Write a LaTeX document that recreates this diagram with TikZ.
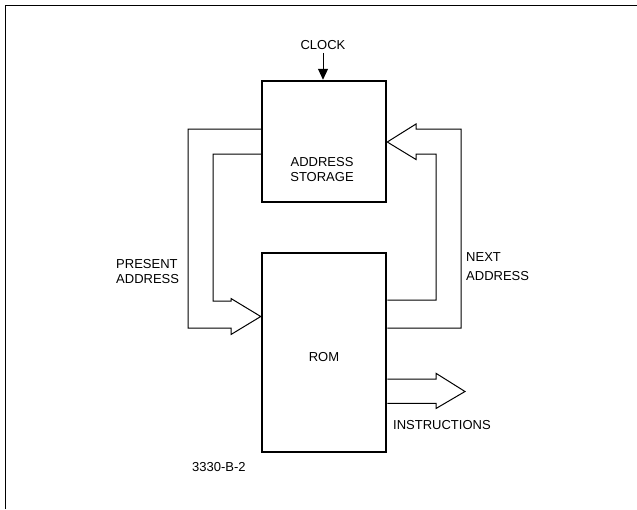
\documentclass[tikz,border=0pt]{standalone}
\usepackage{fontspec}
\setmainfont{Liberation Sans}
\usetikzlibrary{arrows.meta}
\tikzset{
  blk/.style={draw, line width=2.5pt, minimum width=124pt, inner sep=0pt},
  lbl/.style={inner sep=0pt, font=\fontsize{13}{15}\selectfont},
  bus/.style={draw, line width=1pt, line join=miter},
  framel/.style={line width=1.8pt},
}
\begin{document}
\begin{tikzpicture}[x=1pt,y=-1pt]
\useasboundingbox (0,0) rectangle (637,509);
\draw[framel] (5.5,509) -- (5.5,5.5) -- (637,5.5);

\node[blk, minimum height=121pt] (as) at (324,141.5) {};
\node[blk, minimum height=199pt] (rom) at (324,352.5) {};

\node[lbl, align=center] (ast) at (322,170) {ADDRESS\\STORAGE};
\node[lbl] (romt) at (324,356.7) {ROM};
\node[lbl] (clk) at (323,45) {CLOCK};
\node[lbl, align=left, anchor=west] (pa) at (116,271.5) {PRESENT\\ADDRESS};
\node[lbl, align=left, anchor=west] (na) at (466,266.5) {NEXT\\[3.5pt]ADDRESS};
\node[lbl, anchor=west] (ins) at (393,425) {INSTRUCTIONS};
\node[lbl, anchor=west] (fig) at (192,467) {3330-B-2};

% clock
\draw[line width=1pt, -{Triangle[length=11pt,width=10pt]}] (clk.south) ++(0,3) -- (clk |- as.north);

% present address bus
\draw[bus] (as.west |- 0,129) -- (188,129) -- (188,328) -- (231,328) -- (231,334.5)
  -- (rom.west |- 0,316.5) -- (231,298.5) -- (231,301) -- (213,301) -- (213,154) -- (as.west |- 0,154);

% next address bus
\draw[bus] (rom.east |- 0,328) -- (461,328) -- (461,129) -- (416,129) -- (416,124)
  -- (as.east |- 0,142) -- (416,159.5) -- (416,154) -- (436,154) -- (436,300) -- (rom.east |- 0,300);

% instructions bus
\draw[bus] (rom.east |- 0,379) -- (436,379) -- (436,373.3) -- (465,391.5)
  -- (436,408.5) -- (436,403.3) -- (rom.east |- 0,403.3);
\end{tikzpicture}
\end{document}
